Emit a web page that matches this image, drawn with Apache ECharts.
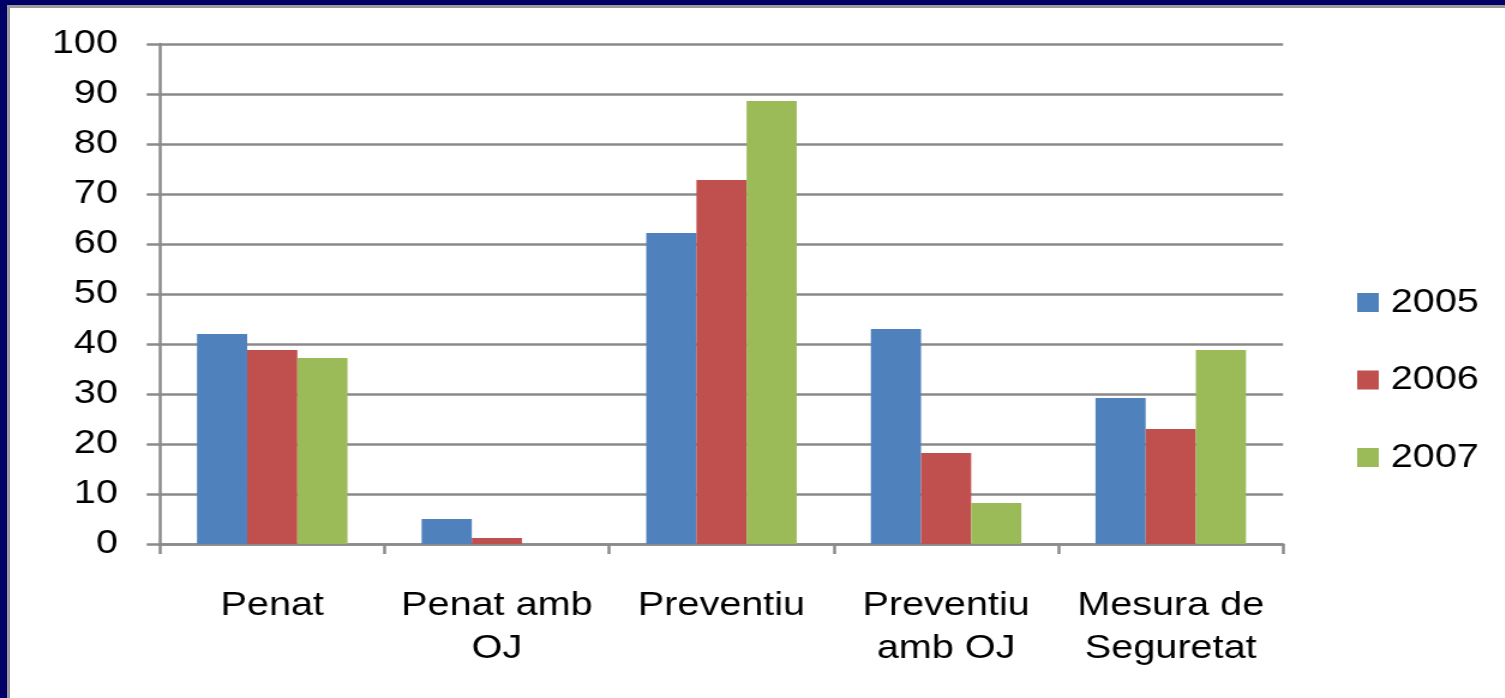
<!DOCTYPE html>
<html>
<head>
<meta charset="utf-8">
<script src="https://cdn.jsdelivr.net/npm/echarts@6/dist/echarts.min.js"></script>
<style>
html,body{margin:0;padding:0;background:#fff;width:1505px;height:698px;overflow:hidden;}
#chart{position:absolute;left:0;top:0;width:1254px;height:698px;transform:scaleX(1.2);transform-origin:0 0;}
.b{position:absolute;}
</style>
</head>
<body>
<div id="chart"></div>
<div class="b" style="left:0;top:0;width:1505px;height:5px;background:#000066"></div>
<div class="b" style="left:0;top:0;width:7px;height:698px;background:#000066"></div>
<div class="b" style="left:7px;top:5px;width:1498px;height:3px;background:#9a9a9a"></div>
<div class="b" style="left:7px;top:5px;width:3px;height:693px;background:#9a9a9a"></div>
<script>
var categories = ['Penat', 'Penat amb\nOJ', 'Preventiu', 'Preventiu\namb OJ', 'Mesura de\nSeguretat'];
var seriesNames = ['2005', '2006', '2007'];
var values2005 = [42, 5, 62.2, 43, 29.2];
var values2006 = [38.8, 1.2, 72.8, 18.2, 23];
var values2007 = [37.2, 0, 88.6, 8.2, 38.8];
var colors = ['#4F81BD', '#C0504D', '#9BBB59'];

var font = 'Liberation Sans, Arial, sans-serif';
var chart = echarts.init(document.getElementById('chart'), null, {renderer: 'canvas'});
var allValues = [values2005, values2006, values2007];
chart.setOption({
  animation: false,
  color: colors,
  grid: {left: 133.3, right: 184.8, top: 44, bottom: 154, containLabel: false},
  legend: {
    orient: 'vertical',
    left: 1126,
    top: 281,
    itemWidth: 18,
    itemHeight: 19,
    itemGap: 44.5,
    icon: 'rect',
    data: seriesNames,
    textStyle: {fontFamily: font, fontSize: 33, color: '#000', lineHeight: 19, padding: [0, 0, 0, 5]}
  },
  xAxis: {
    type: 'category',
    data: categories,
    axisLine: {lineStyle: {color: '#8a8a8a', width: 2.5}},
    axisTick: {show: true, length: 10, lineStyle: {color: '#8a8a8a', width: 2.5}},
    axisLabel: {fontFamily: font, fontSize: 33, color: '#000', lineHeight: 43, margin: 40, interval: 0}
  },
  yAxis: {
    type: 'value',
    min: 0, max: 100, interval: 10,
    axisLine: {show: true, lineStyle: {color: '#8a8a8a', width: 2.5}},
    axisTick: {show: true, length: 11, lineStyle: {color: '#8a8a8a', width: 2.5}},
    axisLabel: {fontFamily: font, fontSize: 33, color: '#000', margin: 35},
    splitLine: {show: true, lineStyle: {color: '#8a8a8a', width: 2.5}}
  },
  series: seriesNames.map(function (n, i) {
    return {
      name: n,
      type: 'bar',
      data: allValues[i],
      barGap: '0%',
      barCategoryGap: '33%',
      itemStyle: {color: colors[i]}
    };
  })
});
</script>
</body>
</html>
